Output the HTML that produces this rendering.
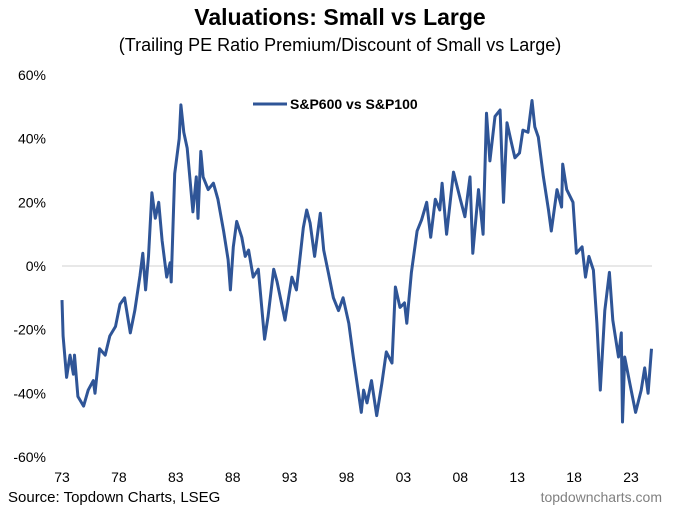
<!DOCTYPE html>
<html><head><meta charset="utf-8"><style>
body{margin:0;background:#fff;font-family:"Liberation Sans",Arial,sans-serif}
</style></head><body>
<svg id="c" width="680" height="509" xmlns="http://www.w3.org/2000/svg" font-family="Liberation Sans, Arial, sans-serif">
<text x="340" y="25" text-anchor="middle" font-size="23" font-weight="bold">Valuations: Small vs Large</text>
<text x="340" y="51" text-anchor="middle" font-size="18">(Trailing PE Ratio Premium/Discount of Small vs Large)</text>
<line x1="62" x2="652" y1="266" y2="266" stroke="#d0d0d0" stroke-width="1"/>
<g id="yaxis"></g>
<g id="xaxis"></g>
<g>
<line x1="253" x2="287" y1="104" y2="104" stroke="#2f5597" stroke-width="3"/>
<text x="290" y="109" font-size="14" font-weight="bold">S&amp;P600 vs S&amp;P100</text>
</g>
<text x="8" y="502" font-size="15">Source: Topdown Charts, LSEG</text>
<text x="662" y="502" text-anchor="end" font-size="14" fill="#808080">topdowncharts.com</text>
</svg>
<script>
const yTicks=[60,40,20,0,-20,-40,-60];
const xTickYears=[1973,1978,1983,1988,1993,1998,2003,2008,2013,2018,2023];
const xTickLabels=["73","78","83","88","93","98","03","08","13","18","23"];
const years=[1973.0,1973.1,1973.4,1973.7,1974.0,1974.1,1974.4,1974.9,1975.3,1975.75,1975.9,1976.3,1976.8,1977.2,1977.7,1978.1,1978.5,1979.0,1979.4,1979.85,1980.1,1980.35,1980.6,1980.9,1981.2,1981.5,1981.8,1982.2,1982.5,1982.6,1982.9,1983.3,1983.45,1983.7,1984.0,1984.2,1984.5,1984.8,1984.95,1985.2,1985.4,1985.85,1986.3,1986.7,1987.2,1987.6,1987.8,1988.05,1988.35,1988.8,1989.1,1989.4,1989.8,1990.25,1990.8,1991.1,1991.6,1991.9,1992.6,1993.2,1993.6,1993.9,1994.2,1994.5,1994.8,1995.2,1995.7,1996.0,1996.4,1996.85,1997.3,1997.7,1998.2,1998.6,1998.9,1999.3,1999.5,1999.8,2000.2,2000.65,2001.1,2001.5,2002.0,2002.3,2002.7,2003.1,2003.3,2003.7,2004.2,2004.6,2005.05,2005.4,2005.8,2006.2,2006.4,2006.8,2007.4,2008.0,2008.4,2008.85,2009.1,2009.6,2010.0,2010.3,2010.6,2011.05,2011.5,2011.8,2012.1,2012.5,2012.8,2013.2,2013.5,2013.95,2014.3,2014.55,2014.85,2015.3,2015.75,2016.0,2016.5,2016.9,2017.0,2017.35,2017.9,2018.2,2018.7,2019.0,2019.3,2019.7,2020.0,2020.3,2020.7,2021.1,2021.4,2021.9,2022.15,2022.25,2022.45,2022.9,2023.4,2023.9,2024.2,2024.5,2024.8];
const values=[-10.7,-22,-35,-28,-34,-28,-41,-44,-39,-36,-40,-26,-28,-22,-19,-12,-10,-21,-14,-3,4,-7.5,3,23,15,20,8,-3.5,1,-5,29,40,50.6,42,37,29,17,28,15,36,28,24,26,21,11,2,-7.5,6,14,9,3,5,-3.5,-1,-23,-16,-1,-5,-17,-3.5,-7.5,2,12,17.6,13.5,3,16.6,5,-2,-10,-14,-10,-18,-28.6,-36,-46,-39,-43,-36,-47,-37,-27,-30.5,-6.6,-13,-11.6,-18,-2,11,14.5,20,9,21,17.6,26,10,29.5,21,15.5,28,4,24,10,48,33,47,49,20,45,38.6,34,35.5,42.7,42,52,43.7,40.5,28,17.6,11,24,18.5,32,24,20,4,6,-3.5,3,-1.3,-18,-39,-14,-2,-17,-28.6,-21,-49,-28.6,-37,-46,-39,-32,-40,-26];
const NS="http://www.w3.org/2000/svg";
const yS=v=>266-v*(191/60);
const xS=yr=>62+(yr-1973)*(569/50);
const svg=document.getElementById('c');
const ya=document.getElementById('yaxis'),xa=document.getElementById('xaxis');
yTicks.forEach(t=>{const e=document.createElementNS(NS,'text');


e.setAttribute('x',46);e.setAttribute('y',yS(t)+5);e.setAttribute('text-anchor','end');e.setAttribute('font-size','14');e.textContent=t+'%';ya.appendChild(e);});
xTickYears.forEach((yr,i)=>{const e=document.createElementNS(NS,'text');


e.setAttribute('x',xS(yr));e.setAttribute('y',482);e.setAttribute('text-anchor','middle');e.setAttribute('font-size','14');e.textContent=xTickLabels[i];xa.appendChild(e);});
const p=document.createElementNS(NS,'polyline');


p.setAttribute('points',years.map((y,i)=>xS(y).toFixed(1)+','+yS(values[i]).toFixed(1)).join(' '));
p.setAttribute('fill','none');p.setAttribute('stroke','#2f5597');p.setAttribute('stroke-width','3');p.setAttribute('stroke-linejoin','round');
svg.appendChild(p);
</script>
</body></html>
